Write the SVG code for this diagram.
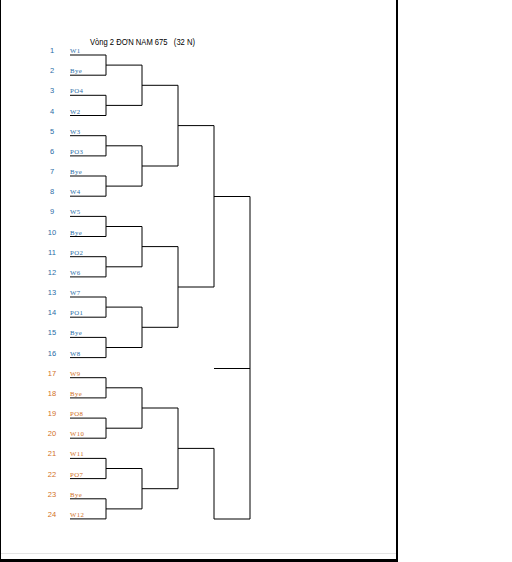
<svg xmlns="http://www.w3.org/2000/svg" width="512" height="562" viewBox="0 0 512 562">
<style>
.n{font-family:"Liberation Sans",Arial,sans-serif;font-size:7.5px;text-anchor:middle}
.t{font-family:"Liberation Serif","Times New Roman",serif;font-size:6.8px;letter-spacing:0.4px}
.b{fill:#2a6ca6}
.o{fill:#d2701e}
.c{fill:none;stroke:#000;stroke-width:1}
</style>
<rect x="0" y="0" width="512" height="562" fill="#fff"/>
<g id="page">
<line x1="0.5" y1="0" x2="0.5" y2="560" stroke="#000" stroke-width="1"/>
<line x1="1" y1="553.5" x2="396" y2="553.5" stroke="#e4e4e4" stroke-width="1"/>
<rect x="396" y="0" width="2" height="562" fill="#000"/>
<rect x="0" y="559" width="398" height="3" fill="#000"/>
</g>
<text id="title" x="90" y="45" font-family="'Liberation Sans',Arial,sans-serif" font-size="8.5" textLength="105" lengthAdjust="spacingAndGlyphs" xml:space="preserve" style="white-space:pre">Vòng 2 ĐƠN NAM 675   (32 N)</text>
<g id="entries">
<g id="e1" class="b"><text class="n" x="52" y="53">1</text><text class="t" x="70" y="53">W1</text></g>
<g id="e2" class="b"><text class="n" x="52" y="73.2">2</text><text class="t" x="70" y="73.2">Bye</text></g>
<g id="e3" class="b"><text class="n" x="52" y="93.3">3</text><text class="t" x="70" y="93.3">PO4</text></g>
<g id="e4" class="b"><text class="n" x="52" y="113.5">4</text><text class="t" x="70" y="113.5">W2</text></g>
<g id="e5" class="b"><text class="n" x="52" y="133.7">5</text><text class="t" x="70" y="133.7">W3</text></g>
<g id="e6" class="b"><text class="n" x="52" y="153.9">6</text><text class="t" x="70" y="153.9">PO3</text></g>
<g id="e7" class="b"><text class="n" x="52" y="174">7</text><text class="t" x="70" y="174">Bye</text></g>
<g id="e8" class="b"><text class="n" x="52" y="194.2">8</text><text class="t" x="70" y="194.2">W4</text></g>
<g id="e9" class="b"><text class="n" x="52" y="214.4">9</text><text class="t" x="70" y="214.4">W5</text></g>
<g id="e10" class="b"><text class="n" x="52" y="234.5">10</text><text class="t" x="70" y="234.5">Bye</text></g>
<g id="e11" class="b"><text class="n" x="52" y="254.7">11</text><text class="t" x="70" y="254.7">PO2</text></g>
<g id="e12" class="b"><text class="n" x="52" y="274.9">12</text><text class="t" x="70" y="274.9">W6</text></g>
<g id="e13" class="b"><text class="n" x="52" y="295">13</text><text class="t" x="70" y="295">W7</text></g>
<g id="e14" class="b"><text class="n" x="52" y="315.2">14</text><text class="t" x="70" y="315.2">PO1</text></g>
<g id="e15" class="b"><text class="n" x="52" y="335.4">15</text><text class="t" x="70" y="335.4">Bye</text></g>
<g id="e16" class="b"><text class="n" x="52" y="355.6">16</text><text class="t" x="70" y="355.6">W8</text></g>
<g id="e17" class="o"><text class="n" x="52" y="375.7">17</text><text class="t" x="70" y="375.7">W9</text></g>
<g id="e18" class="o"><text class="n" x="52" y="395.9">18</text><text class="t" x="70" y="395.9">Bye</text></g>
<g id="e19" class="o"><text class="n" x="52" y="416.1">19</text><text class="t" x="70" y="416.1">PO8</text></g>
<g id="e20" class="o"><text class="n" x="52" y="436.2">20</text><text class="t" x="70" y="436.2">W10</text></g>
<g id="e21" class="o"><text class="n" x="52" y="456.4">21</text><text class="t" x="70" y="456.4">W11</text></g>
<g id="e22" class="o"><text class="n" x="52" y="476.6">22</text><text class="t" x="70" y="476.6">PO7</text></g>
<g id="e23" class="o"><text class="n" x="52" y="496.8">23</text><text class="t" x="70" y="496.8">Bye</text></g>
<g id="e24" class="o"><text class="n" x="52" y="516.9">24</text><text class="t" x="70" y="516.9">W12</text></g>
</g>
<g id="connectors" class="c">
<path d="M70 55H106V75.2H70 M70 95.3H106V115.5H70 M70 135.7H106V155.9H70 M70 176H106V196.2H70 M70 216.4H106V236.5H70 M70 256.7H106V276.9H70 M70 297H106V317.2H70 M70 337.4H106V357.6H70 M70 377.7H106V397.9H70 M70 418.1H106V438.2H70 M70 458.4H106V478.6H70 M70 498.8H106V518.9H70"/>
<path d="M106 65.1H142V105.4H106 M106 145.8H142V186.1H106 M106 226.5H142V266.8H106 M106 307.1H142V347.5H106 M106 387.8H142V428.2H106 M106 468.5H142V508.9H106"/>
<path d="M142 85.3H178V166H142 M142 246.6H178V327.3H142 M142 408H178V488.7H142"/>
<path d="M178 125.6H214V287H178 M178 448.4H214V519H250 M214 196.5H250V519 M214 368.5H250"/>
</g>
</svg>
